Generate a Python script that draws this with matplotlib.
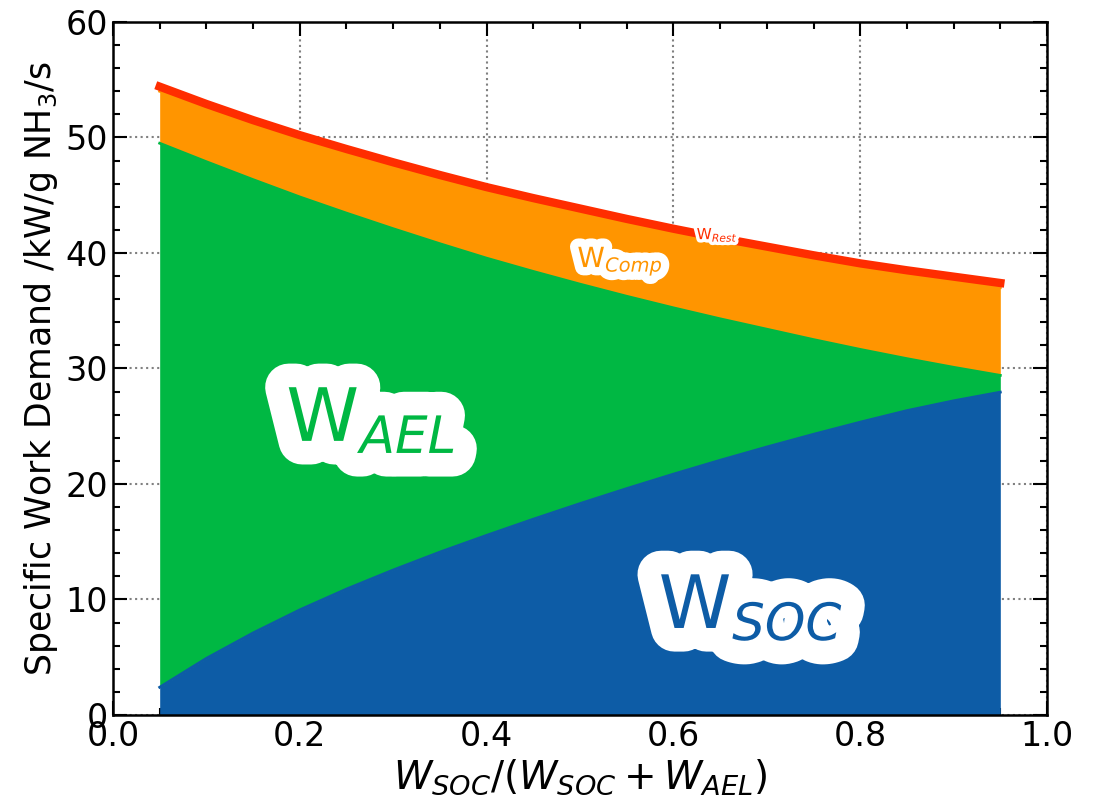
import matplotlib
matplotlib.use("Agg")
import matplotlib.pyplot as plt
import matplotlib.patheffects as pe
from matplotlib.ticker import MultipleLocator
import numpy as np

# Share of SOC work
x_share = [0.05, 0.10, 0.15, 0.20, 0.25, 0.30, 0.35, 0.40, 0.45, 0.50,
           0.55, 0.60, 0.65, 0.70, 0.75, 0.80, 0.85, 0.90, 0.95]
# Layer values (kW/g NH3/s)
w_soc = [2.4, 4.9, 7.1, 9.1, 10.9, 12.55, 14.1, 15.55, 16.95, 18.3,
         19.6, 20.85, 22.05, 23.2, 24.3, 25.35, 26.35, 27.2, 27.95]
w_ael = [47.1, 43.0, 39.25, 35.75, 32.55, 29.55, 26.7, 24.0, 21.45, 19.0,
         16.65, 14.4, 12.25, 10.2, 8.2, 6.3, 4.5, 2.9, 1.45]
w_comp = [4.5, 4.6, 4.75, 4.95, 5.15, 5.35, 5.55, 5.75, 5.95, 6.15,
          6.3, 6.45, 6.6, 6.75, 6.9, 7.05, 7.25, 7.45, 7.6]
w_rest = [0.4, 0.4, 0.4, 0.4, 0.4, 0.4, 0.4, 0.4, 0.4, 0.4,
          0.4, 0.4, 0.4, 0.4, 0.4, 0.4, 0.4, 0.4, 0.4]

layer_labels = ["W$_{SOC}$", "W$_{AEL}$", "W$_{Comp}$", "W$_{Rest}$"]
colors = ["#0d5ca6", "#00b843", "#ff9500", "#ff2d00"]

fig = plt.figure(figsize=(10.99, 7.96), dpi=100)
ax = fig.add_axes([0.1028, 0.1018, 0.9527 - 0.1028, 0.9724 - 0.1018])

x = np.array(x_share)
layers = [np.array(w_soc), np.array(w_ael), np.array(w_comp), np.array(w_rest)]
line_widths = [2.0, 2.0, 2.0, 6.0]
bottom = np.zeros_like(x)
for vals, c in zip(layers, colors):
    top = bottom + vals
    ax.fill_between(x, bottom, top, color=c, linewidth=0, zorder=2)
    bottom = top
bottom = np.zeros_like(x)
for vals, c, lw in zip(layers, colors, line_widths):
    top = bottom + vals
    ax.plot(x, top, color=c, lw=lw, zorder=3)
    bottom = top

ax.set_xlim(0, 1)
ax.set_ylim(0, 60)
ax.xaxis.set_major_locator(MultipleLocator(0.2))
ax.xaxis.set_minor_locator(MultipleLocator(0.05))
ax.yaxis.set_major_locator(MultipleLocator(10))
ax.yaxis.set_minor_locator(MultipleLocator(2))
ax.tick_params(which="both", direction="in", top=True, right=True,
               labelsize=24, width=1.5)
ax.tick_params(which="major", length=10)
ax.tick_params(which="minor", length=5)
for s in ax.spines.values():
    s.set_linewidth(1.8)
ax.grid(True, which="major", linestyle=":", color="gray", linewidth=1.5, zorder=0)
ax.set_axisbelow(True)

ax.set_xlabel("$W_{SOC}/(W_{SOC}+W_{AEL})$", fontsize=28, labelpad=3)
ax.set_ylabel("Specific Work Demand /kW/g NH$_3$/s", fontsize=25, labelpad=4)

def label(txt, xx, yy, c, fs, slw):
    ax.text(xx, yy, txt, color=c, fontsize=fs, ha="center", va="center", zorder=5,
            path_effects=[pe.Stroke(linewidth=slw, foreground="white"), pe.Normal()])

label(layer_labels[1], 0.276, 25.5, colors[1], 53, 34)
label(layer_labels[0], 0.683, 9.3, colors[0], 53, 34)
label(layer_labels[2], 0.543, 39.3, colors[2], 20, 12)
label(layer_labels[3], 0.647, 41.6, colors[3], 11, 5)

fig.savefig("out.png", dpi=100)
